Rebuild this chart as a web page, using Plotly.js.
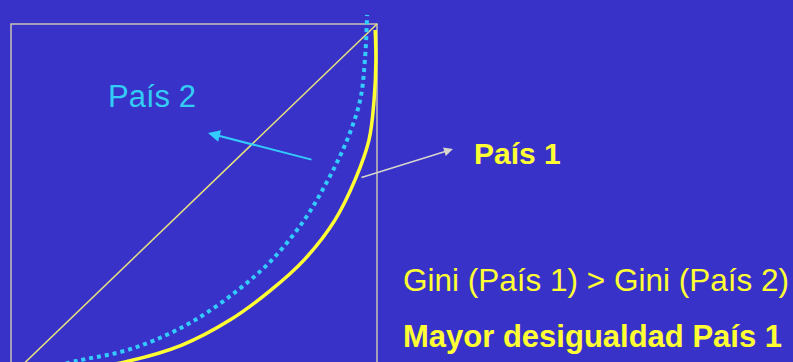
<!DOCTYPE html>
<html>
<head>
<meta charset="utf-8">
<script src="https://cdn.plot.ly/plotly-3.0.1.min.js"></script>
<style>
  html, body { margin: 0; padding: 0; background: #3932C8; }
  #chart { width: 793px; height: 362px; }
</style>
</head>
<body>
<div id="chart"></div>
<script>
// line of perfect equality
var equalX = [0, 1];
var equalY = [0, 1];

// Lorenz curve, País 1 (solid yellow)
var pais1X = [0, 0.134, 0.311, 0.467, 0.598, 0.710, 0.801, 0.885, 0.940, 0.978, 0.992, 0.997, 0.995];
var pais1Y = [0, 0.011, 0.040, 0.088, 0.159, 0.244, 0.330, 0.443, 0.557, 0.670, 0.784, 0.898, 0.983];

// Lorenz curve, País 2 (dotted cyan)
var pais2X = [0, 0.189, 0.298, 0.393, 0.503, 0.620, 0.713, 0.801, 0.866, 0.918, 0.954, 0.967, 0.973];
var pais2Y = [0, 0.045, 0.068, 0.102, 0.159, 0.244, 0.330, 0.443, 0.557, 0.670, 0.784, 0.898, 1.026];

var bg = '#3932C8';
var yellow = '#FFFF33';
var cyan = '#33CCFF';

var traces = [
  {
    x: equalX, y: equalY,
    mode: 'lines',
    line: {color: '#E6E27E', width: 1.5},
    hoverinfo: 'skip'
  },
  {
    x: pais1X, y: pais1Y,
    mode: 'lines',
    line: {color: yellow, width: 3.5, shape: 'spline', smoothing: 1},
    hoverinfo: 'skip'
  },
  {
    x: pais2X, y: pais2Y,
    mode: 'lines',
    line: {color: cyan, width: 4, dash: 'dot', shape: 'spline', smoothing: 1},
    hoverinfo: 'skip'
  }
];

var axisBase = {
  visible: false,
  showgrid: false,
  zeroline: false,
  fixedrange: true
};

var txtFont = 'Liberation Sans, Arial, sans-serif';

var layout = {
  width: 793,
  height: 362,
  margin: {l: 0, r: 0, t: 0, b: 0},
  paper_bgcolor: bg,
  plot_bgcolor: bg,
  showlegend: false,
  xaxis: Object.assign({range: [-11 / 366, 782 / 366]}, axisBase),
  yaxis: Object.assign({range: [1 - 338 / 352, 1 + 24 / 352]}, axisBase),
  shapes: [
    {
      type: 'rect', xref: 'x', yref: 'y',
      x0: 0, x1: 1, y0: 0, y1: 1,
      line: {color: '#C8C2B4', width: 1.5},
      layer: 'below'
    }
  ],
  annotations: [
    {
      xref: 'paper', yref: 'paper',
      x: 152 / 793, y: 1 - 97 / 362,
      xanchor: 'center', yanchor: 'middle',
      text: 'País 2', showarrow: false,
      font: {family: txtFont, size: 31, color: '#33CCF5'}
    },
    {
      xref: 'paper', yref: 'paper',
      x: 208 / 793, y: 1 - 133 / 362,
      text: '', showarrow: true,
      ax: 105, ay: 27,
      arrowcolor: cyan, arrowwidth: 2, arrowhead: 2, arrowsize: 1.2
    },
    {
      xref: 'paper', yref: 'paper',
      x: 453 / 793, y: 1 - 149 / 362,
      text: '', showarrow: true,
      ax: -93, ay: 29,
      arrowcolor: '#D8D6CC', arrowwidth: 1.5, arrowhead: 2, arrowsize: 1.2
    },
    {
      xref: 'paper', yref: 'paper',
      x: 472 / 793, y: 1 - 153 / 362,
      xanchor: 'left', yanchor: 'middle',
      text: '<b>País 1</b>', showarrow: false,
      font: {family: txtFont, size: 30, color: yellow}
    },
    {
      xref: 'paper', yref: 'paper',
      x: 401 / 793, y: 1 - 280 / 362,
      xanchor: 'left', yanchor: 'middle',
      text: 'Gini (País 1) > Gini (País 2)', showarrow: false,
      font: {family: txtFont, size: 31.5, color: yellow}
    },
    {
      xref: 'paper', yref: 'paper',
      x: 401 / 793, y: 1 - 336 / 362,
      xanchor: 'left', yanchor: 'middle',
      text: '<b>Mayor desigualdad País 1</b>', showarrow: false,
      font: {family: txtFont, size: 31, color: yellow}
    }
  ]
};

Plotly.newPlot('chart', traces, layout, {displayModeBar: false, staticPlot: true});
</script>
</body>
</html>
